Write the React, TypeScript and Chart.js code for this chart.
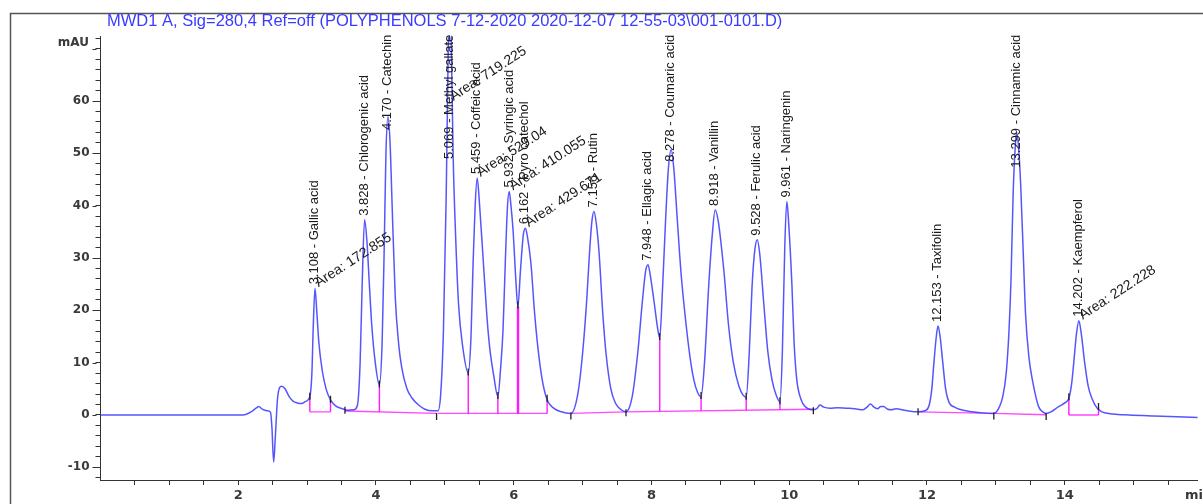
import React, { useEffect, useRef } from 'react';
import { Chart, registerables } from 'chart.js';

Chart.register(...registerables);

const TITLE = 'MWD1 A, Sig=280,4 Ref=off (POLYPHENOLS 7-12-2020 2020-12-07 12-55-03\\001-0101.D)';
const X_UNIT = 'min';
const Y_UNIT = 'mAU';

const X_MIN = 0.001;
const X_MAX = 15.93;
const Y_MIN = -12.43;
const Y_MAX = 72.3;

const xTickLabels = [2, 4, 6, 8, 10, 12, 14];
const yTickLabels = [-10, 0, 10, 20, 30, 40, 50, 60];

// chromatogram trace (retention time in min, signal in mAU)
const traceTime = [
  0, 0.5, 1.0, 1.5, 2.0, 2.11, 2.2, 2.26, 2.3, 2.35, 2.42, 2.47, 2.49, 2.515, 2.54, 2.57, 2.6, 2.63, 2.68, 2.74,
  2.8, 2.86, 2.92, 2.98, 3.04, 3.07, 3.09, 3.115, 3.14, 3.17, 3.22, 3.28, 3.34, 3.42, 3.51, 3.6, 3.68, 3.73,
  3.77, 3.8, 3.835, 3.87, 3.9, 3.94, 3.99, 4.05, 4.09, 4.12, 4.145, 4.175, 4.205, 4.235, 4.28, 4.33, 4.375,
  4.45, 4.52, 4.62, 4.71, 4.82, 4.9, 4.94, 4.98, 5.02, 5.045, 5.07, 5.095, 5.12, 5.16, 5.2, 5.26, 5.34, 5.38,
  5.41, 5.44, 5.47, 5.5, 5.56, 5.61, 5.65, 5.71, 5.77, 5.81, 5.845, 5.88, 5.91, 5.935, 5.96, 5.99, 6.03, 6.06,
  6.1, 6.14, 6.17, 6.2, 6.25, 6.3, 6.35, 6.41, 6.485, 6.58, 6.69, 6.83, 6.93, 7.0, 7.06, 7.1, 7.135, 7.165,
  7.2, 7.24, 7.29, 7.34, 7.41, 7.48, 7.56, 7.63, 7.72, 7.8, 7.87, 7.915, 7.95, 7.985, 8.04, 8.09, 8.12, 8.16,
  8.205, 8.245, 8.285, 8.325, 8.375, 8.43, 8.495, 8.56, 8.615, 8.67, 8.72, 8.77, 8.83, 8.88, 8.925, 8.97,
  9.05, 9.12, 9.19, 9.27, 9.33, 9.375, 9.42, 9.46, 9.5, 9.535, 9.57, 9.63, 9.69, 9.75, 9.81, 9.865, 9.9,
  9.935, 9.965, 9.995, 10.04, 10.07, 10.11, 10.17, 10.23, 10.33, 10.4, 10.445, 10.5, 10.59, 10.7, 10.83,
  10.95, 11.07, 11.13, 11.18, 11.23, 11.28, 11.33, 11.37, 11.43, 11.48, 11.55, 11.6, 11.72, 11.87, 11.97,
  12.03, 12.07, 12.1, 12.135, 12.16, 12.19, 12.23, 12.27, 12.32, 12.4, 12.47, 12.6, 12.8, 12.97, 13.05, 13.1,
  13.15, 13.19, 13.22, 13.25, 13.28, 13.305, 13.33, 13.36, 13.4, 13.43, 13.48, 13.53, 13.58, 13.62, 13.68,
  13.73, 13.8, 13.91, 14.0, 14.06, 14.1, 14.13, 14.17, 14.205, 14.24, 14.29, 14.34, 14.4, 14.47, 14.54, 14.7,
  14.93, 15.3, 15.93,
];
const traceSignal = [
  0, 0, 0, 0, 0, 0.1, 0.7, 1.3, 1.6, 1.1, 0.8, 0.5, -2.5, -9.0, -4.0, 3.0, 5.2, 5.5, 5.0, 3.5,
  2.6, 2.3, 2.2, 2.6, 3.5, 8.0, 17.0, 24.2, 20.0, 14.0, 8.5, 4.8, 2.9, 1.7, 1.2, 0.9, 1.0, 1.8,
  9.9, 25.0, 37.3, 33.0, 26.0, 17.0, 10.0, 5.7, 14.0, 32.0, 50.0, 57.0, 52.0, 40.0, 22.6, 13.5, 9.0,
  5.0, 3.3, 1.9, 1.1, 0.8, 0.8, 4.0, 16.3, 42.0, 66.0, 84.0, 70.0, 50.0, 33.0, 21.0, 13.0, 8.0, 15.0,
  29.0, 40.0, 45.3, 41.0, 29.0, 19.0, 13.0, 7.5, 3.5, 9.0, 16.3, 30.0, 40.0, 42.7, 40.0, 35.4, 26.0, 20.7,
  28.0, 34.5, 35.7, 34.0, 29.0, 20.0, 13.0, 7.0, 2.9, 1.3, 0.6, 0.3, 4.0, 11.8, 22.0, 30.9, 37.0, 38.9,
  36.5, 30.9, 20.0, 11.8, 5.0, 2.2, 1.0, 0.6, 3.5, 11.8, 22.0, 27.5, 28.7, 26.5, 21.4, 16.5, 14.7, 24.0,
  37.3, 47.0, 50.7, 47.0, 37.3, 27.0, 18.2, 11.0, 6.7, 4.3, 3.5, 10.0, 24.5, 34.0, 39.2, 37.0,
  27.7, 17.0, 9.9, 5.5, 3.8, 3.4, 12.0, 24.5, 31.5, 33.5, 31.0, 21.4, 12.0, 6.7, 3.8, 2.5, 12.0,
  32.0, 40.8, 36.0, 24.5, 14.0, 6.7, 3.0, 1.6, 1.0, 1.2, 1.9, 1.5, 1.3, 1.4, 1.3,
  1.2, 1.0, 1.5, 2.1, 1.5, 1.2, 1.6, 1.6, 1.1, 1.0, 1.2, 1.1, 0.8, 0.6, 0.8,
  1.8, 5.0, 9.9, 15.0, 17.0, 15.0, 9.9, 5.0, 2.4, 1.5, 1.1, 0.7, 0.4, 0.3, 1.5, 3.5,
  8.0, 16.0, 26.0, 42.0, 51.0, 53.9, 51.0, 44.0, 30.0, 19.5, 11.0, 6.7, 3.5, 1.6, 0.6,
  0.3, 0.6, 1.6, 2.3, 3.2, 6.0, 9.9, 15.5, 18.0, 15.5, 9.9, 5.5, 3.0, 1.3, 0.6, 0.2,
  0.0, -0.2, -0.5,
];

// identified peaks
const peakTimes = [3.108, 3.828, 4.17, 5.069, 5.459, 5.932, 6.162, 7.156, 7.948, 8.278, 8.918, 9.528, 9.961, 12.153, 13.299, 14.202];
const peakNames = [
  'Gallic acid', 'Chlorogenic acid', 'Catechin', 'Methyl gallate', 'Coffeic acid', 'Syringic acid', 'Pyro catechol',
  'Rutin', 'Ellagic acid', 'Coumaric acid', 'Vanillin', 'Ferulic acid', 'Naringenin', 'Taxifolin', 'Cinnamic acid', 'Kaempferol',
];
const peakHeights = [24.2, 37.3, 57.0, 84.0, 45.3, 42.7, 35.7, 38.9, 28.7, 50.7, 39.2, 33.5, 40.8, 17.0, 53.9, 18.0];
const peakAreas = ['172.855', '', '', '719.225', '529.04', '410.055', '429.671', '', '', '', '', '', '', '', '', '222.228'];

// integration baselines
const baseStartT = [3.04, 3.55, 4.9, 6.83, 7.63, 11.87, 12.97, 14.06];
const baseStartV = [0.6, 0.75, 0.3, 0.3, 0.6, 0.6, 0.3, 0.0];
const baseEndT = [3.34, 4.88, 6.485, 7.63, 10.35, 12.97, 13.73, 14.49];
const baseEndV = [0.6, 0.3, 0.3, 0.6, 1.1, 0.3, 0.05, 0.0];

// drop lines from trace to baseline
const dropTimes = [3.04, 3.34, 4.05, 5.34, 5.77, 6.055, 6.07, 6.485, 8.12, 8.72, 9.375, 9.865, 14.06, 14.49];
const dropTop = [3.5, 2.9, 5.7, 8.0, 3.5, 20.7, 20.7, 2.9, 14.7, 3.5, 3.4, 2.5, 3.2, 1.3];
const dropBase = [0.6, 0.6, 0.55, 0.3, 0.3, 0.3, 0.3, 0.3, 0.7, 0.8, 0.9, 1.0, 0.0, 0.0];

// peak start / end markers
const markerTimes = [3.04, 3.34, 3.55, 4.05, 4.88, 5.34, 5.77, 6.06, 6.485, 6.83, 7.63, 8.12, 8.72, 9.375, 9.865, 10.35, 11.87, 12.97, 13.73, 14.06, 14.49];
const markerValues = [3.6, 3.0, 0.9, 5.9, -0.3, 8.2, 3.7, 21.0, 3.2, -0.2, 0.4, 15.0, 3.7, 3.6, 2.7, 0.8, 0.6, -0.2, -0.3, 3.5, 1.6];

const LABEL_FONT = '"Liberation Sans", Arial, sans-serif';
const AXIS_FONT = '"DejaVu Sans", Verdana, sans-serif';

const decorPlugin = {
  id: 'decor',
  beforeDraw(chart: any) {
    const { ctx } = chart;
    ctx.save();
    ctx.fillStyle = '#ffffff';
    ctx.fillRect(0, 0, chart.width, chart.height);
    ctx.strokeStyle = '#555555';
    ctx.lineWidth = 1.5;
    ctx.strokeRect(10.5, 13.5, chart.width + 20, chart.height + 20);
    ctx.restore();
  },
  afterDraw(chart: any) {
    const { ctx, chartArea: area } = chart;
    const xs = chart.scales.x;
    const ys = chart.scales.y;
    ctx.save();

    // title
    ctx.font = `16.5px ${LABEL_FONT}`;
    ctx.fillStyle = '#3b3bff';
    ctx.textAlign = 'left';
    ctx.textBaseline = 'alphabetic';
    ctx.fillText(TITLE, 107, 26);

    // axis units
    ctx.fillStyle = '#3a3a3a';
    ctx.font = `bold 12px ${AXIS_FONT}`;
    ctx.textAlign = 'right';
    ctx.textBaseline = 'middle';
    ctx.fillText(Y_UNIT, 89, ys.getPixelForValue(71.2));
    ctx.font = `bold 13px ${AXIS_FONT}`;
    ctx.textAlign = 'left';
    ctx.textBaseline = 'top';
    ctx.fillText(X_UNIT, 1185, area.bottom + 9);

    // longer major ticks on y axis
    ctx.strokeStyle = '#333333';
    ctx.lineWidth = 1;
    [...yTickLabels, 70].forEach((v) => {
      const py = Math.round(ys.getPixelForValue(v)) + 0.5;
      ctx.beginPath();
      ctx.moveTo(area.left - 8, py);
      ctx.lineTo(area.left - 4, py);
      ctx.stroke();
    });

    // peak labels
    ctx.fillStyle = '#1a1a1a';
    peakTimes.forEach((t, i) => {
      const text = `${t.toFixed(3)} - ${peakNames[i]}`;
      ctx.font = `13px ${LABEL_FONT}`;
      const w = ctx.measureText(text).width;
      const px = xs.getPixelForValue(t);
      const apexY = ys.getPixelForValue(peakHeights[i]);
      const bottom = Math.max(apexY - 4, area.top - 2 + w);
      ctx.save();
      ctx.translate(px, bottom);
      ctx.rotate(-Math.PI / 2);
      ctx.textAlign = 'left';
      ctx.textBaseline = 'middle';
      ctx.fillText(text, 0, 0);
      ctx.restore();

      if (peakAreas[i]) {
        const at = `Area: ${peakAreas[i]}`;
        ctx.font = `14px ${LABEL_FONT}`;
        const aw = ctx.measureText(at).width;
        const th = (33 * Math.PI) / 180;
        const ay = Math.max(apexY - 1, area.top + 8 + aw * Math.sin(th) + 10 * Math.cos(th));
        ctx.save();
        ctx.translate(px + 4, ay);
        ctx.rotate(-th);
        ctx.textAlign = 'left';
        ctx.textBaseline = 'alphabetic';
        ctx.fillText(at, 0, 0);
        ctx.restore();
      }
    });
    ctx.restore();
  },
};

export default function App() {
  const canvasRef = useRef<HTMLCanvasElement | null>(null);

  useEffect(() => {
    const canvas = canvasRef.current;
    if (!canvas) return;

    const tracePoints = traceTime.map((t, i) => ({ x: t, y: traceSignal[i] }));
    const basePoints: any[] = [];
    baseStartT.forEach((t, i) => {
      basePoints.push({ x: t, y: baseStartV[i] });
      basePoints.push({ x: baseEndT[i], y: baseEndV[i] });
      basePoints.push({ x: baseEndT[i], y: null });
    });
    const dropPoints: any[] = [];
    dropTimes.forEach((t, i) => {
      dropPoints.push({ x: t, y: dropTop[i] });
      dropPoints.push({ x: t, y: dropBase[i] });
      dropPoints.push({ x: t, y: null });
    });
    const markerPoints = markerTimes.map((t, i) => ({ x: t, y: markerValues[i] }));

    const chart = new Chart(canvas, {
      type: 'line',
      data: {
        datasets: [
          {
            label: 'markers',
            type: 'scatter',
            data: markerPoints,
            showLine: false,
            pointStyle: 'line',
            rotation: 90,
            pointRadius: 3.5,
            pointBorderColor: '#222222',
            pointBorderWidth: 1.3,
            borderColor: '#222222',
            order: 0,
          } as any,
          {
            label: 'signal',
            data: tracePoints,
            borderColor: 'rgba(55,55,255,0.85)',
            borderWidth: 1.5,
            pointRadius: 0,
            cubicInterpolationMode: 'monotone',
            fill: false,
            order: 1,
          },
          {
            label: 'drops',
            data: dropPoints,
            borderColor: 'rgba(255,0,255,0.9)',
            borderWidth: 1.4,
            pointRadius: 0,
            spanGaps: false,
            tension: 0,
            fill: false,
            order: 2,
          },
          {
            label: 'baseline',
            data: basePoints,
            borderColor: 'rgba(255,40,255,0.85)',
            borderWidth: 1.4,
            pointRadius: 0,
            spanGaps: false,
            tension: 0,
            fill: false,
            order: 3,
          },
        ],
      },
      options: {
        responsive: false,
        animation: false,
        devicePixelRatio: 1,
        layout: { padding: { top: 36.7, left: 0, right: 0, bottom: 0 } },
        plugins: {
          legend: { display: false },
          tooltip: { enabled: false },
          title: { display: false },
        },
        events: [],
        scales: {
          x: {
            type: 'linear',
            min: X_MIN,
            max: X_MAX,
            afterFit: (scale: any) => {
              scale.height = 24;
            },
            grid: {
              display: true,
              drawOnChartArea: false,
              drawTicks: true,
              tickLength: 5,
              color: '#333333',
              lineWidth: 1,
            },
            border: { display: true, color: '#333333', width: 1 },
            ticks: {
              stepSize: 0.5,
              autoSkip: false,
              includeBounds: false,
              maxRotation: 0,
              padding: 3,
              color: '#3a3a3a',
              font: { family: AXIS_FONT, size: 13, weight: 'bold' },
              callback: (value: any) => (xTickLabels.includes(Number(value)) ? String(value) : ''),
            },
          },
          y: {
            type: 'linear',
            min: Y_MIN,
            max: Y_MAX,
            afterFit: (scale: any) => {
              scale.width = 100.5;
            },
            grid: {
              display: true,
              drawOnChartArea: false,
              drawTicks: true,
              tickLength: 5,
              color: '#333333',
              lineWidth: 1,
            },
            border: { display: true, color: '#333333', width: 1 },
            ticks: {
              stepSize: 2,
              autoSkip: false,
              includeBounds: false,
              padding: 6,
              color: '#3a3a3a',
              font: { family: AXIS_FONT, size: 12, weight: 'bold' },
              callback: (value: any) => (yTickLabels.includes(Number(value)) ? String(value) : ''),
            },
          },
        },
      } as any,
      plugins: [decorPlugin],
    });

    return () => {
      chart.destroy();
    };
  }, []);

  return (
    <div style={{ position: 'fixed', left: 0, top: 0, width: 1203, height: 504, overflow: 'hidden', background: '#fff' }}>
      <canvas ref={canvasRef} width={1203} height={504} style={{ display: 'block', width: 1203, height: 504 }} />
    </div>
  );
}
